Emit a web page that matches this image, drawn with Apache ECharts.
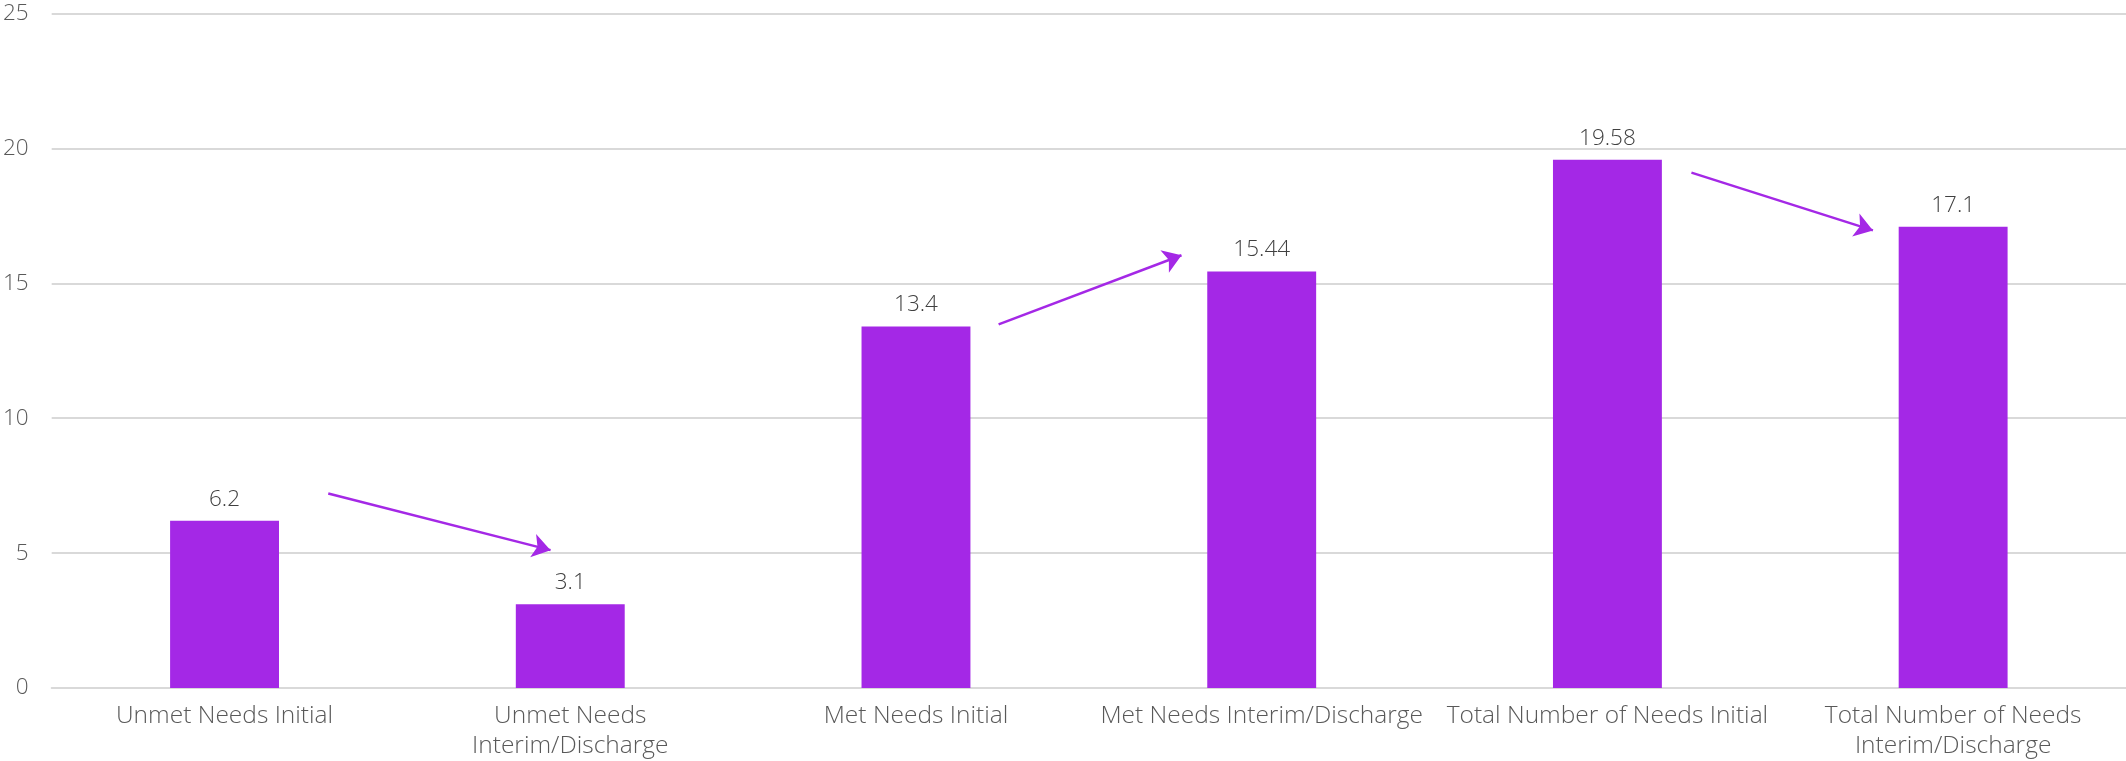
<!DOCTYPE html>
<html>
<head>
<meta charset="utf-8">
<script src="https://cdn.jsdelivr.net/npm/echarts@6/dist/echarts.min.js"></script>
<style>
html,body{margin:0;padding:0;background:#fff;}
#chart{width:2126px;height:761px;}
</style>
</head>
<body>
<div id="chart"></div>
<script>
const categories = [
  "Unmet Needs Initial",
  "Unmet Needs\nInterim/Discharge",
  "Met Needs Initial",
  "Met Needs Interim/Discharge",
  "Total Number of Needs Initial",
  "Total Number of Needs\nInterim/Discharge"
];
const values = [6.2, 3.1, 13.4, 15.44, 19.58, 17.1];
const yTicks = [0, 5, 10, 15, 20, 25];
// Annotation arrows: [startCategoryPos, startValue, endCategoryPos, endValue]
const arrows = [
  [0.30, 7.21, 0.943, 5.11],
  [2.239, 13.48, 2.768, 16.04],
  [4.243, 19.10, 4.768, 16.96]
];

const purple = '#a428e6';
const font = '"Open Sans", Lato, sans-serif';
const chart = echarts.init(document.getElementById('chart'));
chart.setOption({
  animation: false,
  backgroundColor: '#fff',
  grid: { left: 49, right: 0, top: 13.5, bottom: 73, containLabel: false },
  xAxis: [{
    type: 'category',
    data: categories,
    axisLine: { show: true, lineStyle: { color: '#d9d9d9', width: 2 } },
    axisTick: { show: false },
    axisLabel: { color: '#595959', fontSize: 24.5, fontWeight: 300, fontFamily: font, margin: 13, lineHeight: 30, interval: 0 }
  }, {
    type: 'value', min: -0.5, max: 5.5, show: false
  }],
  yAxis: {
    type: 'value',
    min: yTicks[0], max: yTicks[yTicks.length - 1], interval: 5,
    axisLine: { show: false },
    axisTick: { show: false },
    splitLine: { lineStyle: { color: '#d9d9d9', width: 2 } },
    axisLabel: { color: '#595959', fontSize: 22.5, fontWeight: 300, fontFamily: font, margin: 23 }
  },
  series: [{
    type: 'bar',
    data: values,
    barWidth: '31.5%',
    itemStyle: { color: purple },
    label: { show: true, position: 'top', distance: 10, color: '#404040', fontSize: 22.5, fontWeight: 300, fontFamily: font }
  }, {
    type: 'lines',
    coordinateSystem: 'cartesian2d',
    xAxisIndex: 1,
    yAxisIndex: 0,
    symbol: ['none', 'arrow'],
    symbolSize: [14, 18],
    lineStyle: { color: purple, width: 2.5, opacity: 1 },
    data: arrows.map(a => ({ coords: [[a[0], a[1]], [a[2], a[3]]] })),
    z: 5
  }]
});
</script>
</body>
</html>
